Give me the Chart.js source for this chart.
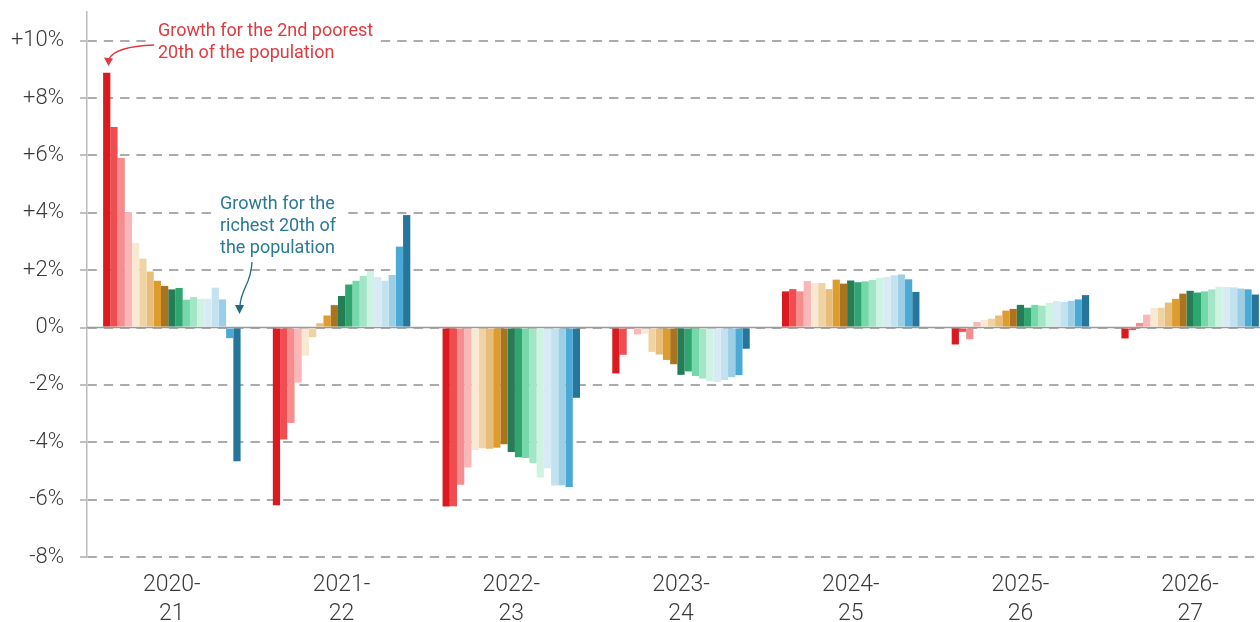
<!DOCTYPE html>
<html>
<head>
<meta charset="utf-8">
<script src="https://cdn.jsdelivr.net/npm/chart.js@4"></script>
<style>
  html, body { margin: 0; padding: 0; background: #fff; overflow: hidden; }
  #wrap { width: 1280px; height: 622px; }
</style>
</head>
<body>
<div id="wrap"><canvas id="c" width="1280" height="622"></canvas></div>
<script>
// Categories (fiscal years)
const categories = ['2020-21', '2021-22', '2022-23', '2023-24', '2024-25', '2025-26', '2026-27'];
// Population twentieths shown (2nd poorest .. richest)
const groups = ['2nd','3rd','4th','5th','6th','7th','8th','9th','10th','11th','12th','13th','14th','15th','16th','17th','18th','19th','20th'];
// Growth (%) by twentieth, one array per year
const y2020_21 = [8.88, 6.99, 5.91, 4.02, 2.95, 2.40, 1.95, 1.63, 1.45, 1.33, 1.38, 0.97, 1.06, 1.00, 1.00, 1.39, 0.98, -0.37, -4.66];
const y2021_22 = [-6.20, -3.90, -3.33, -1.92, -0.98, -0.34, 0.15, 0.42, 0.78, 1.10, 1.50, 1.63, 1.80, 1.97, 1.76, 1.63, 1.83, 2.82, 3.92];
const y2022_23 = [-6.24, -6.23, -5.48, -4.88, -4.27, -4.21, -4.23, -4.19, -4.07, -4.34, -4.52, -4.55, -4.73, -5.23, -4.91, -5.51, -5.50, -5.56, -2.45];
const y2023_24 = [-1.60, -0.95, -0.02, -0.24, -0.22, -0.85, -0.94, -1.13, -1.28, -1.65, -1.53, -1.69, -1.78, -1.87, -1.90, -1.83, -1.73, -1.66, -0.74];
const y2024_25 = [1.26, 1.34, 1.26, 1.62, 1.55, 1.55, 1.34, 1.67, 1.53, 1.64, 1.58, 1.61, 1.66, 1.73, 1.76, 1.82, 1.85, 1.68, 1.24];
const y2025_26 = [-0.59, -0.15, -0.41, 0.19, 0.26, 0.31, 0.42, 0.59, 0.65, 0.79, 0.69, 0.79, 0.76, 0.86, 0.92, 0.89, 0.93, 0.98, 1.13];
const y2026_27 = [-0.38, -0.09, 0.16, 0.45, 0.68, 0.69, 0.87, 1.00, 1.18, 1.28, 1.22, 1.26, 1.33, 1.42, 1.41, 1.40, 1.36, 1.33, 1.15];
// Y tick values
const yTicks = [-8, -6, -4, -2, 0, 2, 4, 6, 8, 10];

const colors = ['#db1a1f','#f04d51','#f58d8e','#f9b7b7','#f7e9d2','#f0d3a2','#e8bd79','#dd9c2e','#a9731f',
                '#237d56','#2fa56f','#74d8ab','#a3e6c7','#cff3e3','#d8ebf4','#c3e2ef','#9ccfe5','#4aa9d5','#26769c'];

const years = [y2020_21, y2021_22, y2022_23, y2023_24, y2024_25, y2025_26, y2026_27];
const datasets = groups.map((g, i) => ({
  label: g,
  data: years.map(y => y[i]),
  backgroundColor: colors[i],
  borderWidth: 0,
  categoryPercentage: 0.81,
  barPercentage: 1.0
}));

const FONT = 'Roboto, "Liberation Sans", sans-serif';

const annotations = {
  id: 'annotations',
  beforeDatasetsDraw(chart) {
    const { ctx, chartArea, scales } = chart;
    const y0 = scales.y.getPixelForValue(0);
    ctx.save();
    ctx.strokeStyle = '#9a9a9a';
    ctx.lineWidth = 1.5;
    ctx.beginPath();
    ctx.moveTo(chartArea.left, y0);
    ctx.lineTo(chartArea.right, y0);
    ctx.stroke();
    ctx.restore();
  },
  afterDraw(chart) {
    const { ctx } = chart;
    ctx.save();
    // white boxes behind annotation text
    ctx.fillStyle = '#ffffff';
    ctx.fillRect(150, 18, 230, 46);
    ctx.fillRect(214, 190, 128, 68);
    ctx.font = '18px ' + FONT;
    ctx.textBaseline = 'alphabetic';
    ctx.textAlign = 'left';
    // red annotation
    const red = '#e03a3f';
    ctx.fillStyle = red;
    ctx.fillText('Growth for the 2nd poorest', 158, 36);
    ctx.fillText('20th of the population', 158, 58);
    ctx.strokeStyle = red;
    ctx.lineWidth = 1.3;
    ctx.beginPath();
    ctx.moveTo(154, 45);
    ctx.bezierCurveTo(128, 46, 113, 51, 109, 59);
    ctx.stroke();
    ctx.beginPath();
    ctx.moveTo(108.5, 66);
    ctx.lineTo(104, 57.5);
    ctx.lineTo(113, 58.5);
    ctx.closePath();
    ctx.fillStyle = red;
    ctx.fill();
    // teal annotation
    const teal = '#2b7997';
    ctx.fillStyle = teal;
    ctx.fillText('Growth for the', 220, 209);
    ctx.fillText('richest 20th of', 220, 231);
    ctx.fillText('the population', 220, 253);
    ctx.strokeStyle = '#1f6b86';
    ctx.beginPath();
    ctx.moveTo(252, 262);
    ctx.bezierCurveTo(251, 285, 241, 288, 240, 306);
    ctx.stroke();
    ctx.beginPath();
    ctx.moveTo(239.5, 314);
    ctx.lineTo(235, 305);
    ctx.lineTo(244, 305);
    ctx.closePath();
    ctx.fillStyle = '#1f6b86';
    ctx.fill();
    ctx.restore();
  }
};

new Chart(document.getElementById('c'), {
  type: 'bar',
  data: {
    labels: categories.map(c => { const p = c.split('-'); return [p[0] + '-', p[1]]; }),
    datasets
  },
  options: {
    responsive: false,
    animation: false,
    devicePixelRatio: 1,
    layout: { autoPadding: false, padding: { top: 12, right: 5, left: 0, bottom: 0 } },
    plugins: { legend: { display: false }, tooltip: { enabled: false } },
    scales: {
      x: {
        offset: true,
        grid: { display: false, drawTicks: false },
        border: { display: false },
        ticks: {
          color: '#3a3a3a',
          font: { family: FONT, size: 23, weight: '300', lineHeight: 1.29 },
          padding: 13,
          maxRotation: 0,
          autoSkip: false
        },
        afterFit(scale) { scale.height = 65; scale.paddingLeft = 0; scale.paddingRight = 0; }
      },
      y: {
        min: -8,
        max: 11,
        afterBuildTicks(scale) { scale.ticks = yTicks.map(v => ({ value: v })); },
        grid: {
          color: '#ababab',
          lineWidth: 2,
          tickLength: 7,
          tickColor: '#ababab',
          tickWidth: 1.5
        },
        border: { display: true, color: '#bdbdbd', width: 1.5, dash: [9.3, 7] },
        ticks: {
          color: '#3a3a3a',
          font: { family: FONT, size: 22, weight: '300' },
          padding: 16,
          callback: v => (v > 0 ? '+' : '') + v + '%'
        },
        afterFit(scale) { scale.width = 87; scale.paddingTop = 0; scale.paddingBottom = 0; }
      }
    }
  },
  plugins: [annotations]
});
</script>
</body>
</html>
